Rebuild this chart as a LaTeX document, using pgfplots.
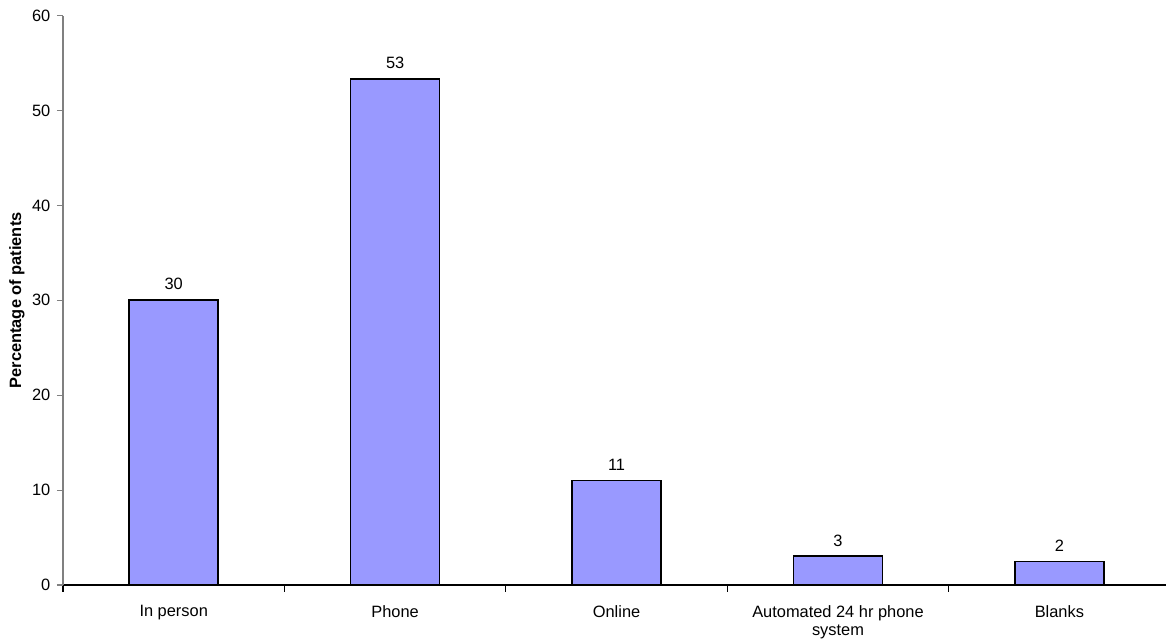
\documentclass[border=0pt]{standalone}
\usepackage{pgfplots}
\pgfplotsset{compat=1.18}
\usepackage{fontspec}
\setmainfont{Liberation Sans}
\definecolor{barblue}{HTML}{9999FF}
\definecolor{axisgray}{HTML}{808080}
\begin{document}
\begin{tikzpicture}
\begin{axis}[
  scale only axis,
  width=827pt, height=427pt,
  xmin=-0.5, xmax=4.48,
  ymin=0, ymax=60,
  axis lines*=left,
  y axis line style={axisgray, line width=0.9pt},
  x axis line style={black, line width=0.9pt},
  ytick={0,10,...,60},
  ytick style={axisgray, line width=0.9pt},
  xtick={0,...,4},
  xticklabels={In person, Phone, Online, {Automated 24 hr phone\\system}, Blanks},
  major x tick style={draw=none},
  minor xtick={-0.5,0.5,1.5,2.5,3.5},
  minor x tick style={black, line width=0.9pt},
  tick align=outside,
  major tick length=4.5pt,
  minor tick length=5pt,
  tick label style={font=\fontsize{12.3}{13.5}\selectfont},
  xticklabel style={align=center, yshift=-7.5pt},
  yticklabel style={xshift=-1.5pt},
  /pgf/number format/assume math mode=true,
  ylabel={Percentage of patients},
  every axis y label/.style={at={(axis description cs:0,0.5)}, xshift=-34.5pt,
    rotate=90, anchor=center, font=\fontsize{12.3}{14}\selectfont\bfseries},
  nodes near coords,
  point meta=explicit symbolic,
  every node near coord/.append style={font=\fontsize{12.3}{14}\selectfont, yshift=3.5pt},
  clip=false,
]
\addplot[ybar, bar width=66.75pt, fill=barblue, draw=black, line width=1.1pt]
  coordinates {(0,30.05)[30] (1,53.35)[53] (2,11.0)[11] (3,3.05)[3] (4,2.45)[2]};
\end{axis}
\pgfresetboundingbox
\path[use as bounding box] (current axis.south west) ++(-47.25pt,-42.75pt) rectangle ++(874.5pt,481.5pt);
\end{tikzpicture}
\end{document}
